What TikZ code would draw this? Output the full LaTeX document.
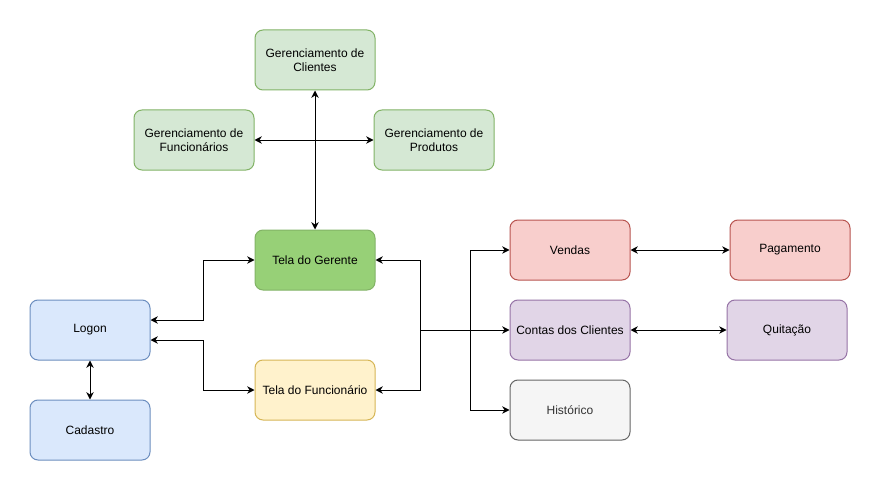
\documentclass[tikz,border=0pt]{standalone}
\usepackage{fontspec}
\setmainfont{Liberation Sans}
\usepackage{tikz}
\usetikzlibrary{shapes}
\usetikzlibrary{arrows.meta}
\usetikzlibrary{positioning}

\definecolor{verdeclaro}{HTML}{D5E8D4}
\definecolor{verdeescuro}{HTML}{97D077}
\definecolor{verdeborda}{HTML}{82B366}
\definecolor{amarelo}{HTML}{FFF2CC}
\definecolor{amareloborda}{HTML}{D6B656}
\definecolor{azul}{HTML}{DAE8FC}
\definecolor{azulborda}{HTML}{6C8EBF}
\definecolor{vermelho}{HTML}{F8CECC}
\definecolor{vermelhoborda}{HTML}{B85450}
\definecolor{roxo}{HTML}{E1D5E7}
\definecolor{roxoborda}{HTML}{9673A6}
\definecolor{cinza}{HTML}{F5F5F5}
\definecolor{cinzaborda}{HTML}{666666}
\definecolor{cinzatexto}{HTML}{333333}

\tikzstyle{bx}=[rectangle,draw,rounded corners=6pt,minimum width=90pt,minimum height=45pt,align=center,inner sep=2pt,line width=0.75pt,font=\fontsize{9}{10.5}\selectfont]
\tikzstyle{ger}=[bx,fill=verdeclaro,draw=verdeborda]
\tikzstyle{lig}=[line width=0.75pt,{Stealth[length=5.5pt,width=5.5pt,inset=1.8pt]}-{Stealth[length=5.5pt,width=5.5pt,inset=1.8pt]}]
\tikzstyle{ida}=[line width=0.75pt,-{Stealth[length=5.5pt,width=5.5pt,inset=1.8pt]}]

\begin{document}
\begin{tikzpicture}[x=0.75pt,y=-0.75pt]
\fill[white] (0,0) rectangle (882,492);
\useasboundingbox (0,0) rectangle (882,492);

%gerenciamento
\node[ger] (clientes) at (315,60) {Gerenciamento de\\Clientes};
\node[ger] (funcionarios) at (194,140) {Gerenciamento de\\Funcionários};
\node[ger] (produtos) at (434,140) {Gerenciamento de\\Produtos};

%telas
\node[bx,fill=verdeescuro,draw=verdeborda] (gerente) at (315,260) {Tela do Gerente};
\node[bx,fill=amarelo,draw=amareloborda] (funcionario) at (315,390) {Tela do Funcionário};

%logon
\node[bx,fill=azul,draw=azulborda] (logon) at (90,330) {Logon};
\node[bx,fill=azul,draw=azulborda] (cadastro) at (90,430) {Cadastro};

%modulos
\node[bx,fill=vermelho,draw=vermelhoborda] (vendas) at (570,250) {Vendas};
\node[bx,fill=vermelho,draw=vermelhoborda] (pagamento) at (790,250) {Pagamento};
\node[bx,fill=roxo,draw=roxoborda] (contas) at (570,330) {Contas dos Clientes};
\node[bx,fill=roxo,draw=roxoborda] (quitacao) at (787,330) {Quitação};
\node[bx,fill=cinza,draw=cinzaborda,text=cinzatexto] (historico) at (570,410) {Histórico};

%cruz
\draw[lig] (clientes.south) -- (gerente.north);
\draw[lig] (funcionarios.east) -- (produtos.west);

%logon e telas
\draw[lig] (cadastro.north) -- (logon.south);
\draw[lig] ([yshift=7.5pt]logon.east) -- ++(52.5,0) |- (gerente.west);
\draw[lig] ([yshift=-7.5pt]logon.east) -- ++(52.5,0) |- (funcionario.west);

%telas e modulos
\coordinate (hub) at (420,330);
\coordinate (ramo) at (470,330);
\draw[ida] (hub) |- (gerente.east);
\draw[ida] (hub) |- (funcionario.east);
\draw[ida] (hub) -- (contas.west);
\draw[ida] (ramo) |- (vendas.west);
\draw[ida] (ramo) |- (historico.west);

\draw[lig] (vendas.east) -- (pagamento.west);
\draw[lig] (contas.east) -- (quitacao.west);

\end{tikzpicture}
\end{document}
